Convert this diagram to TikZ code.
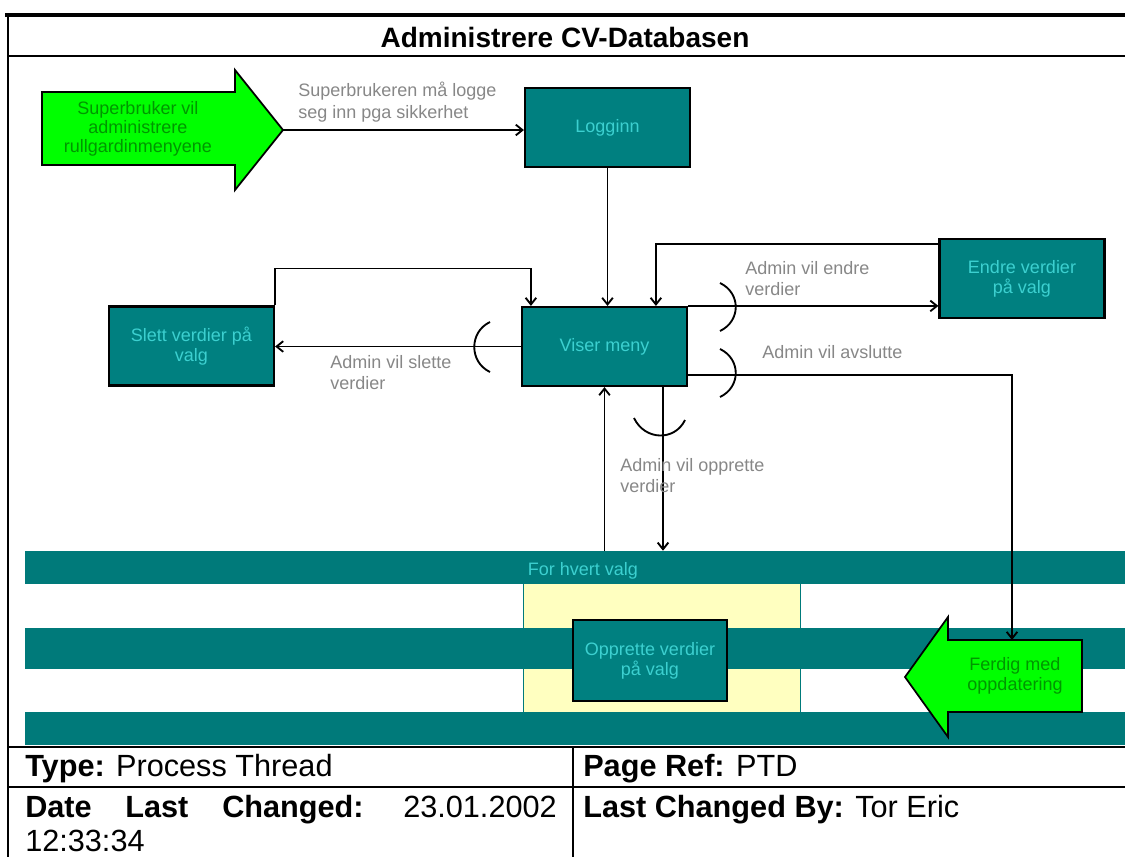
\documentclass[tikz,border=0pt]{standalone}
\usepackage{fontspec}
\setmainfont{Liberation Sans}
\usetikzlibrary{arrows.meta,calc}
\definecolor{tealbox}{RGB}{0,128,128}
\definecolor{tealbar}{RGB}{0,122,122}
\definecolor{cyantext}{RGB}{60,208,208}
\definecolor{greenfill}{RGB}{0,255,0}
\definecolor{greentext}{RGB}{0,150,0}
\definecolor{graytext}{RGB}{135,135,135}
\definecolor{yellowfill}{RGB}{255,255,192}
\begin{document}
\begin{tikzpicture}[x=0.75pt,y=-0.75pt,
  box/.style={draw=black,line width=1.6pt,fill=tealbox,text=cyantext,font=\fontsize{13.5}{15}\selectfont,align=center,minimum width=123.75pt,minimum height=59.25pt,inner sep=0pt},
  bar/.style={fill=tealbar,inner sep=0pt,minimum width=825pt},
  lbl/.style={text=graytext,font=\fontsize{13.5}{16}\selectfont,align=left,anchor=north west,inner sep=0pt},
  gtext/.style={text=greentext,font=\fontsize{13.5}{14.5}\selectfont,align=center,inner sep=0pt},
  conn/.style={line width=1.4pt,-{Straight Barb[length=5pt,width=8pt]}},
  brk/.style={line width=1.4pt},
  frame/.style={line width=1.5pt},
  tbl/.style={font=\fontsize{23}{26}\selectfont,anchor=base west,inner sep=0pt},
  garrow/.style={draw=black,line width=1.3pt,fill=greenfill}
]
\useasboundingbox (0,0) rectangle (1125,857);
% frame
\draw[line width=3pt] (5,15) -- (1125,15);
\draw[frame] (8,15) -- (8,857);
\draw[frame] (8,56) -- (1125,56);
\node[font=\bfseries\fontsize{21}{24}\selectfont] (title) at (565,37) {Administrere CV-Databasen};

% lower band: yellow area and bars
\fill[yellowfill] (523,584) rectangle (800,712);
\draw[tealbar,line width=0.6pt] (523,584) -- (523,712) (800,584) -- (800,712);
\node[bar,minimum height=24.75pt] (bar1) at (575,567.5) {};
\node[bar,minimum height=30.75pt] (bar2) at (575,648.5) {};
\node[bar,minimum height=24.75pt] (bar3) at (575,728.5) {};
\node[text=cyantext,font=\fontsize{13.5}{15}\selectfont] (hvert) at (583,571) {For hvert valg};

% boxes
\node[box] (login) at (607.5,127.5) {Logginn};
\node[box] (viser) at (604.5,346.5) {Viser meny};
\node[box] (slett) at (191.5,346) {Slett verdier på\\valg};
\node[box] (endre) at (1022,278.5) {Endre verdier\\på valg};
\node[box,minimum width=115.5pt,minimum height=60.75pt] (opprette) at (650,660.5) {Opprette verdier\\på valg};

% green arrows
\draw[garrow] (42,92) -- (235,92) -- (235,70) -- (283,130) -- (235,190) -- (235,165) -- (42,165) -- cycle;
\coordinate (a1tip) at (283,130);
\node[gtext] (a1text) at (138,129) {Superbruker vil\\administrere\\rullgardinmenyene};
\draw[garrow] (1082,640) -- (948,640) -- (948,617) -- (905,677) -- (948,737) -- (948,712) -- (1082,712) -- cycle;
\coordinate (ferdigtop) at (1012,640);
\node[gtext] (ferdig) at (1015,676) {Ferdig med\\oppdatering};

% connectors
\draw[conn] (a1tip) -- (a1tip -| login.west);
\draw[conn] (login.south) -- (login.south |- viser.north);
\draw[conn] (viser.west) -- (viser.west -| slett.east);
\draw[conn] (slett.north east) -- ++(0,-37) -| ([xshift=7.5pt]viser.north west);
\draw[conn] (viser.north east) -- (viser.north east -| endre.west);
\draw[conn] ([yshift=-4.5pt]endre.north west) -| ([xshift=101.25pt]viser.north west);
\draw[conn] ([yshift=9pt]viser.south east) -| (ferdigtop);
\draw[conn] (viser.south |- bar1.north) -- (viser.south);
\draw[conn] ([xshift=43.9pt]viser.south) -- ([xshift=43.9pt]viser.south |- bar1.north);

% condition brackets
\draw[brk] (720,283) .. controls (741,293) and (741,321) .. (720,331);
\draw[brk] (720,349) .. controls (741,359) and (741,387) .. (720,397);
\draw[brk] (490,322) .. controls (469,332) and (469,362) .. (490,372);
\draw[brk] (634,418) .. controls (645,441) and (675,441) .. (685,420);

% labels
\node[lbl] (lblLogin) at (298,82) {Superbrukeren må logge\\seg inn pga sikkerhet};
\node[lbl] (lblEndre) at (745,261) {Admin vil endre\\verdier};
\node[lbl] (lblAvslutt) at (762,345) {Admin vil avslutte};
\node[lbl] (lblSlett) at (330,355) {Admin vil slette\\verdier};
\node[lbl] (lblOpprett) at (620,458) {Admin vil opprette\\verdier};

% table
\draw[frame] (8,747) -- (1125,747);
\draw[frame] (8,787) -- (1125,787);
\draw[frame] (573,747) -- (573,857);
\node[tbl] (type) at (25,776) {\textbf{Type:} Process Thread};
\node[tbl] (pageref) at (583,776) {\textbf{Page Ref:} PTD};
\node[tbl] (date) at (25,817) {\textbf{Date}};
\node[tbl] (last) at (125,817) {\textbf{Last}};
\node[tbl] (changed) at (222,817) {\textbf{Changed:}};
\node[tbl,anchor=base east] (datev) at (557,817) {23.01.2002};
\node[tbl] (time) at (25,851) {12:33:34};
\node[tbl] (lastby) at (583,817) {\textbf{Last Changed By:} Tor Eric};
\end{tikzpicture}
\end{document}
